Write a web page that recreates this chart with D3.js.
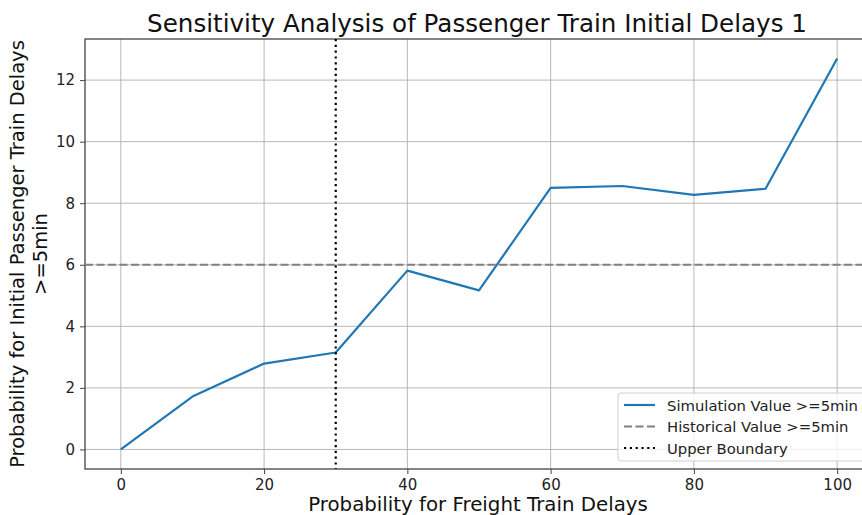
<!DOCTYPE html>
<html>
<head>
<meta charset="utf-8">
<script src="https://cdn.jsdelivr.net/npm/d3@7"></script>
<style>
  html, body { margin: 0; padding: 0; background: #fff; }
  svg { display: block; font-family: "DejaVu Sans", sans-serif; }
</style>
</head>
<body>
<svg id="chart" width="862" height="515"></svg>
<script>
// Freight-delay probability (%) and simulated passenger initial-delay probability (%)
const freightDelay = [0, 10, 20, 30, 40, 50, 60, 70, 80, 90, 100];
const simulationValue = [0, 1.72, 2.79, 3.15, 5.81, 5.17, 8.50, 8.56, 8.27, 8.47, 12.70];
const historicalValue = 6;
const upperBoundary = 30;
const xTicks = [0, 20, 40, 60, 80, 100];
const yTicks = [0, 2, 4, 6, 8, 10, 12];
const legendLabels = ["Simulation Value >=5min", "Historical Value >=5min", "Upper Boundary"];

const svg = d3.select("#chart");
const plot = { left: 85, right: 873, top: 39, bottom: 469 };

const x = d3.scaleLinear().domain([-5, 105]).range([plot.left, plot.right]);
const yMax = d3.max(simulationValue);
const y = d3.scaleLinear().domain([-0.05 * yMax, 1.05 * yMax]).range([plot.bottom, plot.top]);

// grid
const grid = svg.append("g").attr("stroke", "#b0b0b0").attr("stroke-width", 0.9);
grid.selectAll("line.gx").data(xTicks).join("line")
  .attr("x1", d => x(d)).attr("x2", d => x(d))
  .attr("y1", plot.top).attr("y2", plot.bottom);
grid.selectAll("line.gy").data(yTicks).join("line")
  .attr("x1", plot.left).attr("x2", plot.right)
  .attr("y1", d => y(d)).attr("y2", d => y(d));

// axes
const xAxis = svg.append("g").attr("transform", `translate(0,${plot.bottom})`)
  .call(d3.axisBottom(x).tickValues(xTicks).tickSize(5).tickPadding(5).tickSizeOuter(0));
const yAxis = svg.append("g").attr("transform", `translate(${plot.left},0)`)
  .call(d3.axisLeft(y).tickValues(yTicks).tickSize(5).tickPadding(5).tickSizeOuter(0));
[xAxis, yAxis].forEach(a => {
  a.select(".domain").remove();
  a.selectAll("line").attr("stroke", "#444").attr("stroke-width", 1);
  a.selectAll("text").attr("font-size", 15).attr("fill", "#222")
    .attr("font-family", "DejaVu Sans, sans-serif");
});

// frame
svg.append("rect")
  .attr("x", plot.left).attr("y", plot.top)
  .attr("width", plot.right - plot.left).attr("height", plot.bottom - plot.top)
  .attr("fill", "none").attr("stroke", "#444").attr("stroke-width", 1.3);

// simulated series
svg.append("path")
  .datum(freightDelay.map((f, i) => [f, simulationValue[i]]))
  .attr("fill", "none").attr("stroke", "#1f77b4").attr("stroke-width", 2.2)
  .attr("stroke-linejoin", "round")
  .attr("d", d3.line().x(d => x(d[0])).y(d => y(d[1])));

// historical reference line
svg.append("line")
  .attr("x1", plot.left).attr("x2", plot.right)
  .attr("y1", y(historicalValue)).attr("y2", y(historicalValue))
  .attr("stroke", "#808080").attr("stroke-width", 2.2).attr("stroke-dasharray", "8,3.5");

// upper boundary
svg.append("line")
  .attr("x1", x(upperBoundary)).attr("x2", x(upperBoundary))
  .attr("y1", plot.top).attr("y2", plot.bottom)
  .attr("stroke", "#000").attr("stroke-width", 2.2).attr("stroke-dasharray", "2.2,3.6");

// title and axis labels
svg.append("text").attr("x", 477).attr("y", 32)
  .attr("text-anchor", "middle").attr("font-size", 24.6).attr("fill", "#111")
  .text("Sensitivity Analysis of Passenger Train Initial Delays 1");
svg.append("text").attr("x", 478).attr("y", 511)
  .attr("text-anchor", "middle").attr("font-size", 19.8).attr("fill", "#111")
  .text("Probability for Freight Train Delays");
const yl = svg.append("text")
  .attr("transform", `translate(0,${(plot.top + plot.bottom) / 2}) rotate(-90)`)
  .attr("text-anchor", "middle").attr("font-size", 19.5).attr("fill", "#111");
yl.append("tspan").attr("x", 0).attr("y", 24).text("Probability for Initial Passenger Train Delays");
yl.append("tspan").attr("x", 0).attr("y", 47).text(">=5min");

// legend
const lg = svg.append("g").attr("transform", "translate(618,393)");
lg.append("rect").attr("width", 260).attr("height", 68).attr("rx", 3)
  .attr("fill", "#fff").attr("fill-opacity", 0.8).attr("stroke", "#d0d0d0");
const styles = [
  { stroke: "#1f77b4", dash: null },
  { stroke: "#808080", dash: "8,3.5" },
  { stroke: "#000", dash: "2.2,3.6" }
];
legendLabels.forEach((t, i) => {
  const row = lg.append("g").attr("transform", `translate(0,${12 + i * 21.5})`);
  row.append("line").attr("x1", 6).attr("x2", 37).attr("y1", 0).attr("y2", 0)
    .attr("stroke", styles[i].stroke).attr("stroke-width", 2.2)
    .attr("stroke-dasharray", styles[i].dash);
  row.append("text").attr("x", 49).attr("y", 5.5).attr("font-size", 14.8).attr("fill", "#222").text(t);
});
</script>
</body>
</html>
